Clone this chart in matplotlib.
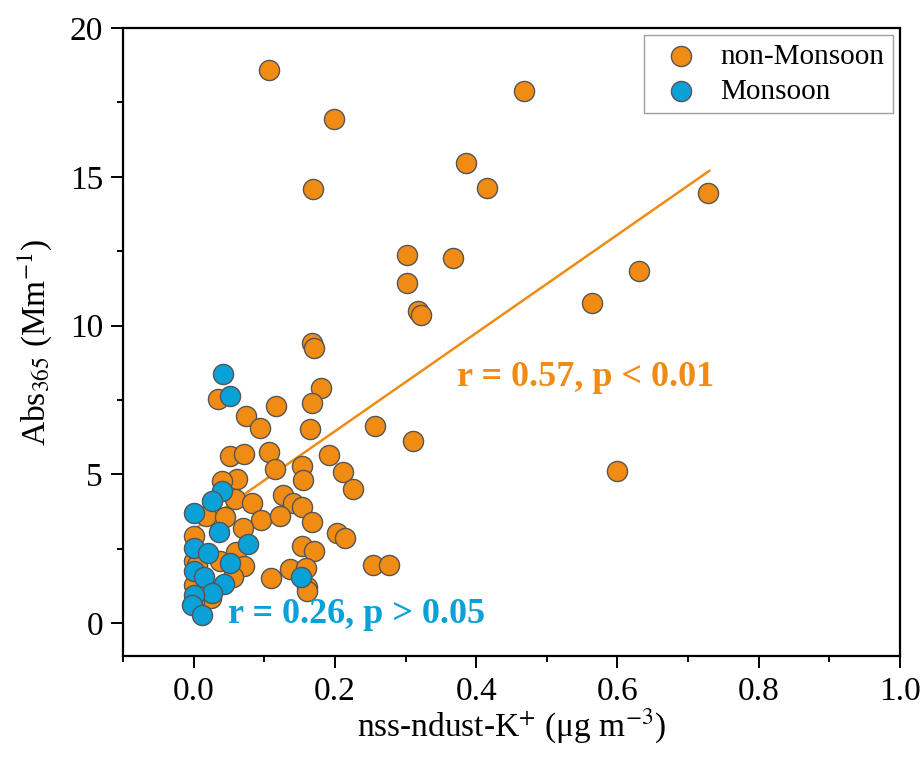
import numpy as np
import matplotlib
matplotlib.use("Agg")
import matplotlib.pyplot as plt

plt.rcParams['font.family'] = ['Liberation Serif', 'DejaVu Serif']
plt.rcParams['mathtext.fontset'] = 'stix'

# non-Monsoon punkter
nm_x = [0.106, 0.199, 0.468, 0.385, 0.415, 0.169, 0.302, 0.367, 0.302, 0.317,
        0.322, 0.167, 0.170, 0.728, 0.631, 0.564, 0.600, 0.180, 0.168, 0.116,
        0.035, 0.0745, 0.094, 0.165, 0.2565, 0.311, 0.052, 0.071, 0.106, 0.191,
        0.115, 0.154, 0.155, 0.211, 0.2255, 0.062, 0.040, 0.058, 0.083, 0.127,
        0.141, 0.153, 0.017, 0.045, 0.096, 0.122, 0.168, 0.0705, 0.000, 0.2025,
        0.2147, 0.1537, 0.171, 0.060, 0.037, 0.0708, 0.055, 0.137, 0.1585, 0.1088,
        0.161, 0.160, 0.2546, 0.276, 0.024, 0.000, 0.000, 0.005, 0.000]
nm_y = [18.58, 16.96, 17.89, 15.46, 14.64, 14.60, 12.36, 12.28, 11.42, 10.48,
        10.35, 9.42, 9.25, 14.45, 11.85, 10.75, 5.10, 7.91, 7.40, 7.29,
        7.52, 6.96, 6.57, 6.54, 6.64, 6.13, 5.62, 5.70, 5.75, 5.64,
        5.19, 5.30, 4.81, 5.08, 4.50, 4.85, 4.77, 4.16, 4.04, 4.32,
        4.05, 3.92, 3.60, 3.57, 3.48, 3.59, 3.41, 3.20, 2.92, 3.02,
        2.86, 2.58, 2.43, 2.40, 2.10, 1.92, 1.55, 1.81, 1.87, 1.52,
        1.23, 1.08, 1.96, 1.96, 0.86, 2.10, 1.30, 1.95, 0.70]

# Monsoon punkter
m_x = [0.0417, 0.052, 0.040, 0.0253, 0.001, 0.036, 0.0765, 0.001, 0.021, 0.052,
       0.001, 0.0145, 0.0425, 0.152, 0.026, 0.000, -0.003, 0.012]
m_y = [8.39, 7.65, 4.43, 4.10, 3.71, 3.08, 2.65, 2.53, 2.35, 2.03,
       1.75, 1.55, 1.32, 1.55, 1.03, 0.95, 0.62, 0.29]

# regresjonslinje for non-Monsoon
fit_x = [0.0, 0.73]
fit_y = [3.15, 15.2]

orange = '#F08C14'
blue = '#0AA0D8'

fig = plt.figure(figsize=(9.23, 7.58), dpi=100)
ax = fig.add_axes([0.1333, 0.1346, 0.8417, 0.8284])

ax.plot(fit_x, fit_y, color=orange, lw=1.8, zorder=2)
ax.scatter(nm_x, nm_y, s=210, color=orange, edgecolor='#555555', linewidth=1.0,
           label='non-Monsoon', zorder=3)
ax.scatter(m_x, m_y, s=210, color=blue, edgecolor='#555555', linewidth=1.0,
           label='Monsoon', zorder=4)

ax.text(0.373, 8.26, 'r = 0.57, p < 0.01', color=orange, fontsize=26,
        fontweight='bold', va='center', ha='left')
ax.text(0.049, 0.30, 'r = 0.26, p > 0.05', color=blue, fontsize=26,
        fontweight='bold', va='center', ha='left')

ax.set_xlim(-0.1, 1.0)
ax.set_ylim(-1.1, 20)
ax.set_xticks([0.0, 0.2, 0.4, 0.6, 0.8, 1.0])
ax.set_xticks(np.arange(-0.1, 1.01, 0.1), minor=True)
ax.set_yticks([0, 5, 10, 15, 20])
ax.set_yticks(np.arange(0, 20.1, 2.5), minor=True)
ax.xaxis.set_major_formatter(matplotlib.ticker.FormatStrFormatter('%.1f'))

ax.tick_params(which='major', direction='out', length=8.5, width=1.4, labelsize=24)
ax.tick_params(axis='x', which='major', pad=6)
ax.tick_params(axis='y', which='major', pad=6)
ax.tick_params(which='minor', direction='out', length=4.5, width=1.4)
ax.tick_params(top=False, right=False)
for sp in ax.spines.values():
    sp.set_linewidth(1.6)

ax.set_xlabel('nss-ndust-K$^{+}$ (μg m$^{-3}$)', fontsize=24, labelpad=0)
ax.set_ylabel('Abs$_{365}$ (Mm$^{-1}$)', fontsize=24, labelpad=11)

leg = ax.legend(loc='upper right', fontsize=21, frameon=True, fancybox=False,
                edgecolor='#888888', borderaxespad=0.25, handletextpad=0.35,
                labelspacing=0.28, borderpad=0.28)
leg.get_frame().set_linewidth(1.0)

fig.savefig('out.png', dpi=100)
